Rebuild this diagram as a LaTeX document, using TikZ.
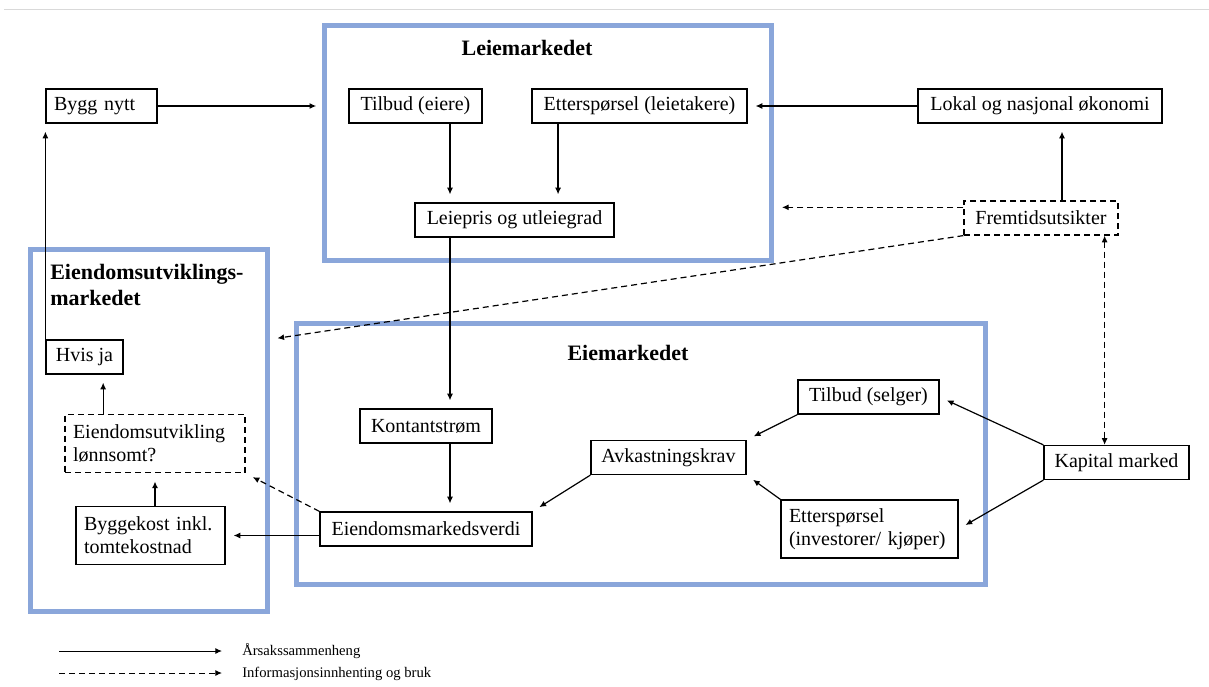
\documentclass[tikz,border=0pt]{standalone}
\usepackage{fontspec}
\setmainfont{Liberation Serif}
\usetikzlibrary{arrows.meta}
\definecolor{mktblue}{HTML}{8AA6DA}
\definecolor{rulegrey}{HTML}{D9D9D9}
\tikzset{
  >={Latex[length=5pt,width=4.5pt]},
  box/.style={draw, line width=0.9pt, minimum height=25.5pt, inner xsep=6pt,
              inner ysep=3pt, font=\fontsize{15}{17.25}\selectfont},
  dbox/.style={box, dash pattern=on 4.5pt off 3pt},
  frame/.style={draw=mktblue, line width=3.75pt, inner sep=0pt},
  hd/.style={font=\fontsize{16.5}{19.5}\selectfont\bfseries, inner sep=0pt},
  flow/.style={->, line width=0.9pt, shorten >=6pt},
  info/.style={flow, dash pattern=on 4.5pt off 3pt},
  tag/.style={font=\fontsize{11}{12}\selectfont, inner sep=0pt, anchor=base west},
}
\begin{document}
\begin{tikzpicture}[x=0.75pt, y=-0.75pt]
  \useasboundingbox (0,0) rectangle (1209,686);
  \draw[rulegrey, line width=0.75pt] (4,9) -- (1209,9);

  % markets
  \node[frame, minimum width=335.6pt, minimum height=176.25pt] (leie) at (547.75,143) {};
  \node[frame, minimum width=177.75pt, minimum height=271.5pt] (utv) at (148.5,430) {};
  \node[frame, minimum width=516.75pt, minimum height=195.75pt] (eie) at (640.5,453.5) {};
  \node[hd] (tleie) at (527,48) {Leiemarkedet};
  \node[hd] (teie) at (628,353) {Eiemarkedet};
  \node[hd, align=left, anchor=north west] (tutv) at (50,264) {Eiendomsutviklings-\\markedet};

  % boxes
  \node[box, text width=71.25pt, align=left] (bygg) at (101.5,106) {Bygg nytt};
  \node[box, minimum width=99.75pt] (tilbudE) at (415.5,106) {Tilbud (eiere)};
  \node[box, minimum width=161.25pt] (ettersL) at (639.5,106) {Etterspørsel (leietakere)};
  \node[box, minimum width=183pt] (lokal) at (1040,106) {Lokal og nasjonal økonomi};
  \node[box, minimum width=149.25pt] (leiepris) at (514.5,220) {Leiepris og utleiegrad};
  \node[dbox, minimum width=115.5pt] (fremtid) at (1041,218) {Fremtidsutsikter};
  \node[box, minimum width=108.75pt] (kapital) at (1116.5,462.5) {Kapital marked};
  \node[box, minimum width=105.75pt] (tilbudS) at (868.5,397) {Tilbud (selger)};
  \node[box, minimum width=116.25pt] (avk) at (668.5,457.5) {Avkastningskrav};
  \node[box, text width=120.75pt, align=left, minimum height=43.5pt] (ettersI) at (869.5,529)
    {Etterspørsel\\(investorer/ kjøper)};
  \node[box, minimum width=99pt] (kontant) at (426,426) {Kontantstrøm};
  \node[box, minimum width=159pt] (eiendV) at (426,529) {Eiendomsmarkedsverdi};
  \node[box, minimum width=57.75pt] (hvis) at (84.5,357) {Hvis ja};
  \node[dbox, text width=123pt, align=left, minimum height=44pt] (lonn) at (155,443.5)
    {Eiendomsutvikling\\lønnsomt?};
  \node[box, text width=99.75pt, align=left, minimum height=43pt] (bygge) at (150.5,535.5)
    {Byggekost inkl.\\tomtekostnad};

  % causal links
  \coordinate (colA) at (450,0);
  \coordinate (colB) at (1062,0);
  \coordinate (colC) at ([xshift=14pt]hvis.south);
  \draw[flow, shorten >=4pt] (bygg.east) -- (bygg.east -| leie.west);
  \draw[flow] (tilbudE.south -| colA) -- (leiepris.north -| colA);
  \draw[flow] ([xshift=20pt]ettersL.south west) -- ([xshift=20pt]ettersL.south west |- leiepris.north);
  \draw[flow] (lokal.west) -- (ettersL.east);
  \draw[flow] (fremtid.north -| colB) -- (lokal.south -| colB);
  \draw[flow] (leiepris.south -| colA) -- (kontant.north -| colA);
  \draw[flow] (kontant.south -| colA) -- (eiendV.north -| colA);
  \draw[flow] (kapital.north west) -- (tilbudS.east);
  \draw[flow] (kapital.south west) -- (ettersI.east);
  \draw[flow] (tilbudS.south west) -- (avk.north east);
  \draw[flow] (ettersI.north west) -- (avk.south east);
  \draw[flow] (avk.south west) -- (eiendV.north east);
  \draw[flow] (eiendV.west |- bygge.east) -- (bygge.east);
  \draw[flow] (bygge.north -| lonn.south) -- (lonn.south);
  \draw[flow] (lonn.north -| colC) -- (colC);
  \draw[flow] (hvis.north west) -- (hvis.north west |- bygg.south);

  % information links
  \draw[info] ([yshift=8pt]fremtid.west) -- ([yshift=8pt]fremtid.west -| leie.east);
  \draw[info] (fremtid.south west) -- (utv.east |- hvis.north);
  \draw[info, <->, shorten >=0pt] ([xshift=-10.5pt]fremtid.south east) -- ([xshift=-10.5pt]fremtid.south east |- kapital.north);
  \draw[info] (eiendV.north west) -- (lonn.south east);

  % legend
  \coordinate (ls0) at (59,651);
  \coordinate (ls1) at (222,651);
  \coordinate (ld0) at (59,673);
  \coordinate (ld1) at (222,673);
  \draw[flow, shorten >=0pt, line width=0.75pt] (ls0) -- (ls1);
  \draw[info, shorten >=0pt, line width=0.75pt] (ld0) -- (ld1);
  \node[tag] (tcause) at (242,655) {Årsakssammenheng};
  \node[tag] (tinfo) at (242,677) {Informasjonsinnhenting og bruk};
\end{tikzpicture}
\end{document}
